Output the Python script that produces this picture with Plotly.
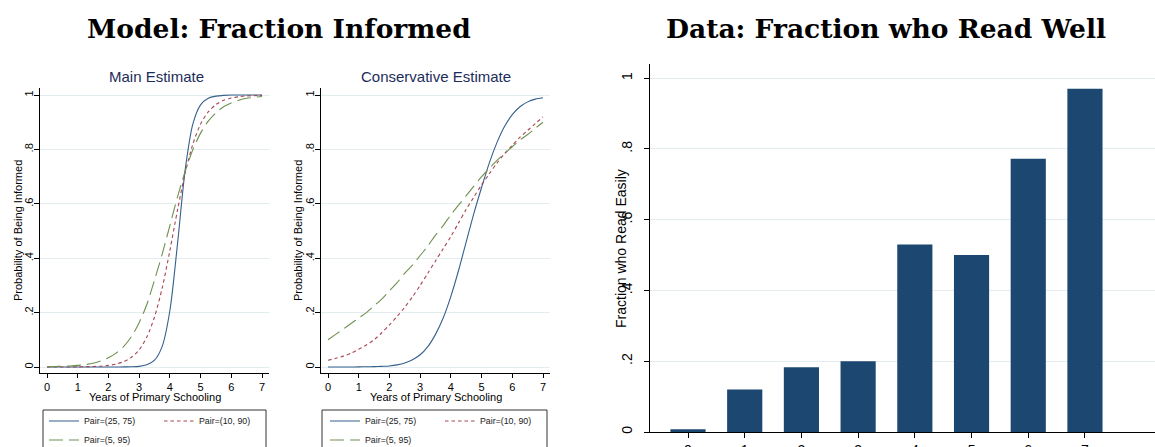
import plotly.graph_objects as go

W, H = 1155, 447


def fx(p):
    return p / W


def fy(p):
    return 1 - p / H


# ---------------- data ----------------
years = [0, 0.25, 0.5, 0.75, 1, 1.25, 1.5, 1.75, 2, 2.25, 2.5, 2.75, 3, 3.25, 3.5,
         3.75, 4, 4.25, 4.5, 4.75, 5, 5.25, 5.5, 5.75, 6, 6.25, 6.5, 6.75, 7]

main_25_75 = [0, 0, 0, 0, 0, 0, 0, 0, 0, 0, 0.0005, 0.001, 0.0025, 0.008, 0.025,
              0.076, 0.207, 0.454, 0.726, 0.894, 0.964, 0.988, 0.996, 0.999, 1, 1, 1, 1, 1]
main_10_90 = [0, 0, 0, 0, 0.0005, 0.001, 0.002, 0.003, 0.006, 0.011, 0.02, 0.036, 0.063, 0.11, 0.184,
              0.29, 0.428, 0.578, 0.714, 0.82, 0.893, 0.938, 0.965, 0.981, 0.989, 0.994, 0.997, 0.998, 0.999]
main_5_95 = [0.001, 0.002, 0.003, 0.004, 0.006, 0.009, 0.014, 0.022, 0.034, 0.051, 0.076, 0.112, 0.163, 0.23, 0.32,
             0.415, 0.52, 0.626, 0.72, 0.80, 0.86, 0.904, 0.935, 0.957, 0.971, 0.981, 0.988, 0.992, 0.995]

cons_25_75 = [0, 0, 0, 0, 0.0005, 0.001, 0.0015, 0.0025, 0.004, 0.008, 0.015, 0.027, 0.045, 0.075, 0.12,
              0.18, 0.26, 0.355, 0.46, 0.565, 0.66, 0.75, 0.825, 0.885, 0.928, 0.957, 0.975, 0.985, 0.99]
cons_10_90 = [0.025, 0.032, 0.04, 0.051, 0.065, 0.081, 0.10, 0.126, 0.155, 0.186, 0.22, 0.258, 0.30, 0.345, 0.39,
              0.435, 0.48, 0.53, 0.58, 0.625, 0.67, 0.71, 0.75, 0.785, 0.815, 0.845, 0.87, 0.895, 0.92]
cons_5_95 = [0.10, 0.12, 0.14, 0.16, 0.18, 0.20, 0.225, 0.25, 0.28, 0.31, 0.345, 0.375, 0.41, 0.445, 0.485,
             0.52, 0.56, 0.595, 0.63, 0.665, 0.70, 0.73, 0.76, 0.785, 0.81, 0.835, 0.855, 0.878, 0.90]

series_names = ["Pair=(25, 75)", "Pair=(10, 90)", "Pair=(5, 95)"]

bar_years = [0, 1, 2, 3, 4, 5, 6, 7]
read_easily = [0.008, 0.12, 0.183, 0.20, 0.53, 0.50, 0.772, 0.97]

prob_ticks = [0, 0.2, 0.4, 0.6, 0.8, 1]
prob_ticktext = ["0", ".2", ".4", ".6", ".8", "1"]
year_ticks = [0, 1, 2, 3, 4, 5, 6, 7]

# ---------------- styles ----------------
BAR_NAVY = "#1b4770"
LINE_NAVY = "#35608d"
LINE_MAROON = "#a8454f"
LINE_GREEN = "#6f9150"
GRID = "#e3ecee"
SANS = "Liberation Sans, Arial, sans-serif"
SERIF = "DejaVu Serif, serif"

styles = [(LINE_NAVY, "solid", "g1"), (LINE_MAROON, "3.5px,3px", "g2"), (LINE_GREEN, "14px,6px", "g1")]

fig = go.Figure()

panels = [
    ("x", "y", "legend", [main_25_75, main_10_90, main_5_95], "p1"),
    ("x2", "y2", "legend2", [cons_25_75, cons_10_90, cons_5_95], "p2"),
]
for xa, ya, leg, data, tag in panels:
    for name, vals, (col, dash, grp) in zip(series_names, data, styles):
        fig.add_trace(go.Scatter(
            x=years, y=vals, mode="lines", name=name,
            line=dict(color=col, width=1.1, dash=dash, shape="spline", smoothing=0.8),
            xaxis=xa, yaxis=ya, legend=leg, legendgroup=tag + grp,
            hoverinfo="skip",
        ))

fig.add_trace(go.Bar(
    x=bar_years, y=read_easily, width=0.62, marker=dict(color=BAR_NAVY, line=dict(width=0)),
    xaxis="x3", yaxis="y3", showlegend=False, hoverinfo="skip",
))

common_x = dict(range=[-0.228, 7.228], tickvals=year_ticks, ticks="outside", ticklen=4,
                tickcolor="#000", showline=True, linecolor="#000", linewidth=1,
                showgrid=False, zeroline=False, tickfont=dict(family=SANS, size=11, color="#000"))
common_y = dict(range=[-0.022, 1.026], tickvals=prob_ticks, ticktext=prob_ticktext, tickangle=-90,
                ticks="outside", ticklen=5, tickcolor="#000", showline=True, linecolor="#000",
                linewidth=1, showgrid=True, gridcolor=GRID, gridwidth=1, zeroline=False,
                ticklabelstandoff=-3,
                tickfont=dict(family=SANS, size=11, color="#000"),
                domain=[fy(373), fy(88)])

fig.update_layout(
    width=W, height=H,
    margin=dict(l=0, r=0, t=0, b=0, autoexpand=False),
    paper_bgcolor="white", plot_bgcolor="white",
    showlegend=True,
    xaxis=dict(domain=[fx(40), fx(269)], anchor="y", **common_x),
    yaxis=dict(anchor="x", **common_y),
    xaxis2=dict(domain=[fx(321), fx(550)], anchor="y2", **common_x),
    yaxis2=dict(anchor="x2", **common_y),
    xaxis3=dict(domain=[fx(650), 1.0], anchor="y3", range=[-0.67, 8.235], tickvals=year_ticks,
                ticks="outside", ticklen=5, tickcolor="#000", showline=True, linecolor="#000",
                linewidth=1, showgrid=False, zeroline=False,
                tickfont=dict(family=SANS, size=14, color="#000")),
    yaxis3=dict(domain=[fy(432), fy(64)], anchor="x3", range=[0, 1.04], tickvals=prob_ticks,
                ticktext=prob_ticktext, tickangle=-90, ticks="outside", ticklen=5, tickcolor="#000",
                showline=True, linecolor="#000", linewidth=1, showgrid=True, gridcolor=GRID,
                zeroline=False, ticklabelstandoff=6,
                tickfont=dict(family=SANS, size=14, color="#000")),
    legend=dict(x=fx(44), y=fy(406.5), xanchor="left", yanchor="top", orientation="h",
                traceorder="grouped", entrywidth=70, entrywidthmode="pixels", tracegroupgap=0,
                font=dict(family=SANS, size=8.8, color="#222"), bgcolor="rgba(0,0,0,0)",
                borderwidth=0),
    legend2=dict(x=fx(325), y=fy(406.5), xanchor="left", yanchor="top", orientation="h",
                 traceorder="grouped", entrywidth=70, entrywidthmode="pixels", tracegroupgap=0,
                 font=dict(family=SANS, size=8.8, color="#222"), bgcolor="rgba(0,0,0,0)",
                 borderwidth=0),
)

# legend boxes
for x0, x1 in [(43, 266), (322, 547)]:
    fig.add_shape(type="rect", xref="paper", yref="paper", x0=fx(x0), x1=fx(x1),
                  y0=fy(470), y1=fy(410), line=dict(color="#333", width=1),
                  fillcolor="rgba(0,0,0,0)", layer="below")

annots = [
    dict(text="<b>Model: Fraction Informed</b>", x=fx(279), y=fy(28),
         font=dict(family=SERIF, size=26.5, color="#000")),
    dict(text="<b>Data: Fraction who Read Well</b>", x=fx(886), y=fy(28),
         font=dict(family=SERIF, size=26.5, color="#000")),
    dict(text="Main Estimate", x=fx(156), y=fy(76), font=dict(family=SANS, size=15, color="#1c2d5a")),
    dict(text="Conservative Estimate", x=fx(436), y=fy(76), font=dict(family=SANS, size=15, color="#1c2d5a")),
    dict(text="Years of Primary Schooling", x=fx(155), y=fy(397), font=dict(family=SANS, size=11, color="#000")),
    dict(text="Years of Primary Schooling", x=fx(436), y=fy(397), font=dict(family=SANS, size=11, color="#000")),
    dict(text="Probability of Being Informed", x=fx(18), y=fy(231), textangle=-90,
         font=dict(family=SANS, size=11, color="#000")),
    dict(text="Probability of Being Informed", x=fx(298), y=fy(231), textangle=-90,
         font=dict(family=SANS, size=11, color="#000")),
    dict(text="Fraction who Read Easily", x=fx(621), y=fy(249), textangle=-90,
         font=dict(family=SANS, size=14, color="#000")),
]
for a in annots:
    fig.add_annotation(xref="paper", yref="paper", showarrow=False, xanchor="center",
                       yanchor="middle", **a)

fig.write_html("out.html")
